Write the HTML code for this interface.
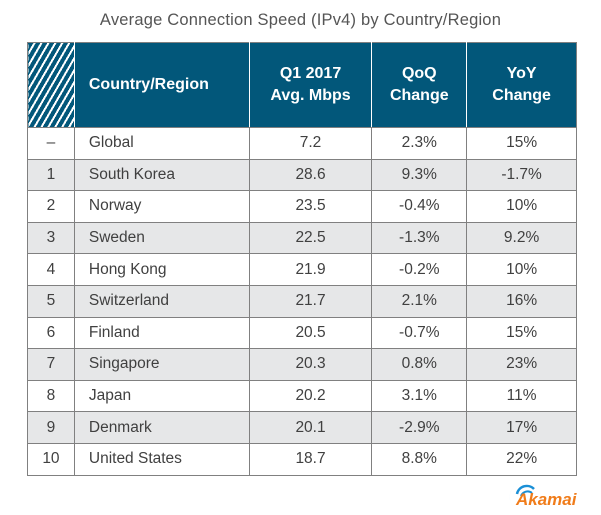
<!DOCTYPE html>
<html><head><meta charset="utf-8"><style>
body{margin:0;width:601px;height:515px;background:#fff;font-family:"Liberation Sans",sans-serif;position:relative;overflow:hidden}
#title{position:absolute;left:0;width:601px;top:11px;text-align:center;font-size:16.5px;color:#555;letter-spacing:0.2px}
table{position:absolute;left:27px;top:42px;border-collapse:collapse;width:550px}
td,th{border:1.5px solid #808080;padding:0;font-size:15.5px;color:#404040;height:30.6px}
th{background:#02577a;color:#fff;font-weight:bold;font-size:16px;height:84px;border-left-color:#fff;border-right-color:#fff;line-height:22px}
th:first-child{border-left-color:#808080}th:last-child{border-right-color:#808080}
tbody#tb tr:nth-child(even) td{background:#e6e7e8}
.c{text-align:center}.l{text-align:left;padding-left:14px}
</style></head><body>
<div id="title">Average Connection Speed (IPv4) by Country/Region</div>
<table>
<colgroup><col style="width:47px"><col style="width:175px"><col style="width:123px"><col style="width:95px"><col style="width:110px"></colgroup>
<thead><tr>
<th style="background:repeating-linear-gradient(120deg,#02577a 0 4px,#fff 4px 6px)"></th>
<th class="l">Country/Region</th>
<th>Q1 2017<br>Avg. Mbps</th>
<th>QoQ<br>Change</th>
<th>YoY<br>Change</th></tr></thead>
<tbody id="tb"></tbody>
</table>
<div style="position:absolute;left:503px;top:479px;width:75px;height:34px">
<svg width="34" height="34" style="position:absolute;left:0;top:0"><path d="M28 4 A15 15 0 1 0 16 32 A12 12 0 0 1 28 4Z" fill="#1a8fd6"/><path d="M31 10 A10 10 0 0 0 14 15" stroke="#1a8fd6" stroke-width="2.5" fill="none"/><path d="M29 14 A7 7 0 0 0 18 17" stroke="#1a8fd6" stroke-width="2" fill="none"/></svg>
<span style="position:absolute;left:13px;top:11px;font-weight:bold;font-style:italic;font-size:17px;color:#f07c1a">Akamai</span></div>
<script>
const ranks=["–","1","2","3","4","5","6","7","8","9","10"];
const countries=["Global","South Korea","Norway","Sweden","Hong Kong","Switzerland","Finland","Singapore","Japan","Denmark","United States"];
const speeds=["7.2","28.6","23.5","22.5","21.9","21.7","20.5","20.3","20.2","20.1","18.7"];
const qoq=["2.3%","9.3%","-0.4%","-1.3%","-0.2%","2.1%","-0.7%","0.8%","3.1%","-2.9%","8.8%"];
const yoy=["15%","-1.7%","10%","9.2%","10%","16%","15%","23%","11%","17%","22%"];
const tb=document.getElementById('tb');
ranks.forEach((r,i)=>{
const tr=document.createElement('tr');


[[r,'c'],[countries[i],'l'],[speeds[i],'c'],[qoq[i],'c'],[yoy[i],'c']].forEach((v,j)=>{
const td=document.createElement('td');td.className=v[1];td.textContent=v[0];


tr.appendChild(td);});
tb.appendChild(tr);});
</script>
</body></html>
